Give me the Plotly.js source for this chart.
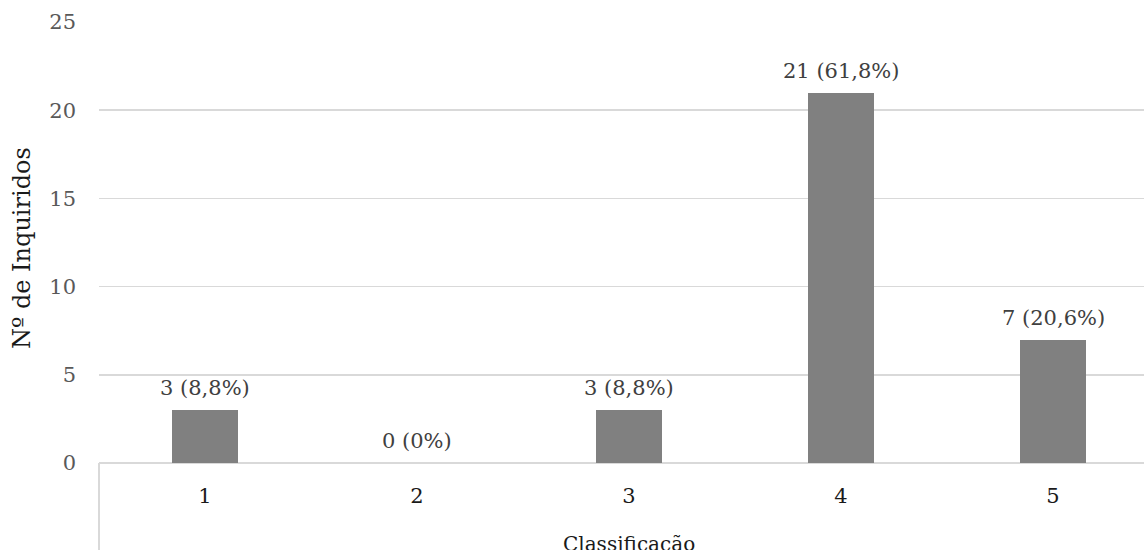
<!DOCTYPE html>
<html>
<head>
<meta charset="utf-8">
<script src="https://cdn.plot.ly/plotly-3.0.1.min.js"></script>
<style>
  html, body { margin: 0; padding: 0; background: #ffffff; }
  #chart { width: 1144px; height: 550px; }
</style>
</head>
<body>
<div id="chart"></div>
<script>
// Respostas por classificação (escala 1–5)
const categories = [1, 2, 3, 4, 5];
const counts = [3, 0, 3, 21, 7];
const percents = ["8,8%", "0%", "8,8%", "61,8%", "20,6%"];
const yTicks = [0, 5, 10, 15, 20, 25];

const FONT = "DejaVu Serif, Liberation Serif, serif";
const FS = 21;

const bars = {
  type: "bar",
  x: categories,
  y: counts,
  width: 0.311,
  marker: { color: "#808080", line: { width: 0 } },
  hoverinfo: "skip",
  showlegend: false
};

// Rótulos "n (p%)" por cima de cada barra
const labels = categories.map((c, i) => ({
  x: c, y: counts[i], xref: "x", yref: "y",
  text: counts[i] + " (" + percents[i] + ")",
  showarrow: false, yanchor: "bottom", yshift: 8,
  font: { family: FONT, size: FS, color: "#404040" }
}));

const plotLeft = 99, plotRight = 1144, catWidth = 212;
const xMax = 0.5 + (plotRight - plotLeft) / catWidth;

const layout = {
  width: 1144, height: 550,
  margin: { l: plotLeft, r: 0, t: 22, b: 87, pad: 0 },
  paper_bgcolor: "#ffffff", plot_bgcolor: "#ffffff",
  bargap: 0,
  xaxis: {
    range: [0.5, xMax],
    tickvals: categories,
    ticktext: categories.map(String),
    showgrid: false, zeroline: false, showline: false,
    ticks: "", ticklen: 0,
    ticklabelstandoff: 18,
    tickfont: { family: FONT, size: FS, color: "#1a1a1a" },
    fixedrange: true
  },
  yaxis: {
    range: [0, 25],
    tickvals: yTicks,
    ticktext: yTicks.map(String),
    showgrid: true, gridcolor: "#d9d9d9", gridwidth: 1.5,
    zeroline: true, zerolinecolor: "#d9d9d9", zerolinewidth: 2,
    showline: false, ticks: "",
    ticklabelstandoff: 22,
    tickfont: { family: FONT, size: FS, color: "#595959" },
    fixedrange: true
  },
  shapes: [
    // linha vertical da área das categorias
    { type: "line", xref: "paper", yref: "paper",
      x0: 0, x1: 0, y0: 0, y1: -87 / 441,
      line: { color: "#d9d9d9", width: 2 } }
  ],
  annotations: labels.concat([
    // título do eixo das categorias, centrado nas cinco categorias
    { text: "Classificação", xref: "x", yref: "paper",
      x: 3, y: -81 / 441,
      xanchor: "center", yanchor: "middle", showarrow: false,
      font: { family: FONT, size: FS - 1, color: "#1a1a1a" } },
    { text: "Nº de Inquiridos", xref: "paper", yref: "paper",
      x: -77 / (plotRight - plotLeft), y: (463 - 248) / 441,
      xanchor: "center", yanchor: "middle", showarrow: false, textangle: -90,
      font: { family: FONT, size: 24, color: "#1a1a1a" } }
  ])
};

Plotly.newPlot("chart", [bars], layout, { staticPlot: true, displayModeBar: false });
</script>
</body>
</html>
